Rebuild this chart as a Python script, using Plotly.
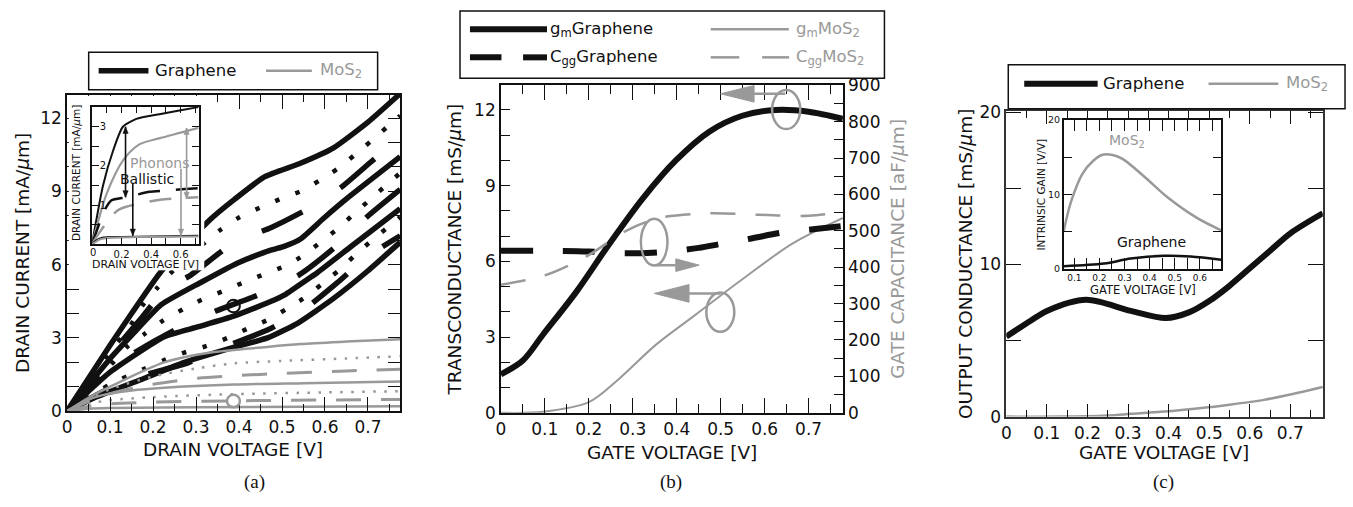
import plotly.graph_objects as go

W, H = 1353, 507
def PX(x): return x / W
def PY(y): return 1 - y / H

BLACK = "#111111"
GRAY = "#999999"
FONT = "DejaVu Sans"

# ---------------- Panel (a): drain current vs drain voltage ----------------
a_s1_x = [0, 0.05, 0.1, 0.15, 0.22, 0.33, 0.39, 0.46, 0.54, 0.62, 0.70, 0.775]
a_s1_y = [0, 1.35, 2.7, 4.0, 5.75, 7.8, 8.68, 9.6, 10.13, 10.78, 11.83, 13.0]
a_d1_x = [0, 0.1, 0.141, 0.176, 0.21, 0.242, 0.3, 0.358, 0.4, 0.447, 0.495, 0.543, 0.587, 0.63, 0.669, 0.708, 0.746, 0.775]
a_d1_y = [0, 2.45, 3.32, 4.34, 5.05, 5.67, 6.6, 7.44, 7.93, 8.32, 8.68, 9.0, 9.44, 9.93, 10.49, 11.07, 11.66, 12.1]
a_ds1_x = [0, 0.1, 0.17, 0.23, 0.285, 0.389, 0.474, 0.555, 0.636, 0.706, 0.775]
a_ds1_y = [0, 2.3, 3.75, 5.02, 5.54, 6.92, 7.51, 8.23, 9.14, 10.19, 11.22]
a_s2_x = [0, 0.1, 0.15, 0.219, 0.312, 0.397, 0.474, 0.505, 0.543, 0.597, 0.659, 0.775]
a_s2_y = [0, 2.15, 3.1, 4.36, 5.28, 6.07, 6.59, 6.75, 7.05, 7.9, 8.82, 10.42]
a_d2_x = [0, 0.107, 0.141, 0.18, 0.223, 0.269, 0.313, 0.362, 0.412, 0.459, 0.509, 0.551, 0.592, 0.632, 0.669, 0.708, 0.746, 0.775]
a_d2_y = [0, 2.0, 2.66, 3.16, 3.71, 4.17, 4.56, 4.91, 5.28, 5.61, 5.96, 6.39, 6.95, 7.5, 8.11, 8.71, 9.31, 9.75]
a_ds2_x = [0, 0.1, 0.157, 0.25, 0.346, 0.443, 0.539, 0.624, 0.698, 0.775]
a_ds2_y = [0, 1.75, 2.4, 3.32, 4.1, 4.75, 5.57, 6.72, 7.96, 9.08]
a_s3_x = [0, 0.1, 0.226, 0.304, 0.389, 0.482, 0.505, 0.551, 0.582, 0.659, 0.775]
a_s3_y = [0, 1.6, 3.05, 3.45, 3.9, 4.55, 4.75, 5.3, 5.67, 6.72, 8.29]
a_d3_x = [0, 0.1, 0.18, 0.223, 0.273, 0.323, 0.372, 0.42, 0.466, 0.509, 0.553, 0.592, 0.632, 0.669, 0.708, 0.746, 0.775]
a_d3_y = [0, 1.1, 1.74, 2.07, 2.4, 2.66, 2.99, 3.38, 3.73, 4.17, 4.65, 5.19, 5.76, 6.37, 6.98, 7.53, 7.95]
a_ds3_x = [0, 0.1, 0.18, 0.281, 0.389, 0.466, 0.547, 0.628, 0.698, 0.775]
a_ds3_y = [0, 0.95, 1.48, 1.98, 2.79, 3.32, 4.1, 5.25, 6.33, 7.18]
a_s4_x = [0, 0.057, 0.18, 0.273, 0.389, 0.466, 0.536, 0.62, 0.70, 0.775]
a_s4_y = [0, 0.5, 1.35, 2.0, 2.62, 3.0, 3.6, 4.62, 5.75, 6.92]

a_g1_x = [0, 0.05, 0.11, 0.226, 0.342, 0.458, 0.543, 0.65, 0.775]
a_g1_y = [0, 0.55, 1.09, 2.0, 2.42, 2.62, 2.75, 2.85, 2.95]
a_gd1_x = [0, 0.05, 0.1, 0.2, 0.3, 0.389, 0.5, 0.65, 0.775]
a_gd1_y = [0, 0.5, 0.9, 1.42, 1.75, 1.96, 2.06, 2.16, 2.25]
a_gds1_x = [0, 0.05, 0.1, 0.2, 0.304, 0.389, 0.5, 0.65, 0.775]
a_gds1_y = [0, 0.4, 0.72, 1.1, 1.35, 1.45, 1.55, 1.65, 1.72]
a_g2_x = [0, 0.04, 0.08, 0.15, 0.226, 0.389, 0.55, 0.775]
a_g2_y = [0, 0.4, 0.65, 0.85, 0.96, 1.09, 1.15, 1.22]
a_gd2_x = [0, 0.05, 0.1, 0.2, 0.389, 0.6, 0.775]
a_gd2_y = [0, 0.3, 0.45, 0.58, 0.7, 0.77, 0.82]
a_gds2_x = [0, 0.05, 0.1, 0.2, 0.4, 0.775]
a_gds2_y = [0, 0.2, 0.3, 0.37, 0.43, 0.48]
a_g3_x = [0, 0.05, 0.1, 0.3, 0.775]
a_g3_y = [0, 0.1, 0.13, 0.16, 0.2]

# inset (a)
ia_bs_x = [0, 0.074, 0.142, 0.209, 0.3, 0.456, 0.6, 0.72]
ia_bs_y = [0, 1.49, 2.38, 3.0, 3.2, 3.32, 3.42, 3.5]
ia_gs_x = [0, 0.05, 0.1, 0.21, 0.32, 0.46, 0.6, 0.72]
ia_gs_y = [0, 0.7, 1.3, 2.14, 2.55, 2.71, 2.85, 2.97]
ia_bd_x = [0, 0.085, 0.13, 0.23, 0.39, 0.5, 0.63, 0.72]
ia_bd_y = [0, 0.87, 1.12, 1.2, 1.34, 1.37, 1.41, 1.43]
ia_gd_x = [0, 0.05, 0.175, 0.32, 0.46, 0.6, 0.72]
ia_gd_y = [0, 0.3, 0.87, 1.04, 1.14, 1.18, 1.2]
ia_bb_x = [0, 0.03, 0.07, 0.2, 0.72]
ia_bb_y = [0, 0.1, 0.17, 0.19, 0.22]
ia_gb_x = [0, 0.05, 0.1, 0.3, 0.72]
ia_gb_y = [0, 0.12, 0.16, 0.19, 0.2]

# ---------------- Panel (b): gm and Cgg vs gate voltage ----------------
b_gm_gr_x = [0, 0.05, 0.096, 0.172, 0.247, 0.323, 0.398, 0.474, 0.549, 0.625, 0.7, 0.778]
b_gm_gr_y = [1.52, 2.07, 3.1, 4.8, 6.7, 8.5, 10.0, 11.14, 11.77, 12.0, 11.93, 11.65]
b_gm_mo_x = [0, 0.096, 0.2, 0.262, 0.353, 0.444, 0.55, 0.663, 0.778]
b_gm_mo_y = [0, 0.04, 0.42, 1.24, 2.7, 3.9, 5.3, 6.7, 7.72]
b_cg_gr_x = [0, 0.1, 0.2, 0.28, 0.36, 0.45, 0.5, 0.57, 0.64, 0.71, 0.778]
b_cg_gr_y = [445, 445, 443, 438, 441, 453, 464, 479, 495, 504, 513]
b_cg_mo_x = [0, 0.096, 0.194, 0.285, 0.36, 0.474, 0.587, 0.7, 0.778]
b_cg_mo_y = [352, 376, 429, 500, 535, 548, 544, 541, 552]

# ---------------- Panel (c): output conductance ----------------
c_gr_x = [0, 0.061, 0.1, 0.1966, 0.307, 0.393, 0.45, 0.5, 0.55, 0.6, 0.65, 0.7, 0.78]
c_gr_y = [5.26, 6.32, 6.95, 7.68, 6.95, 6.48, 6.85, 7.6, 8.6, 9.75, 10.9, 12.05, 13.37]
c_mo_x = [0, 0.14, 0.25, 0.307, 0.4, 0.47, 0.55, 0.635, 0.7, 0.78]
c_mo_y = [0, 0.0, 0.08, 0.18, 0.35, 0.53, 0.78, 1.1, 1.45, 1.95]
# inset (c): intrinsic gain
ic_mo_x = [0.058, 0.087, 0.1334, 0.1755, 0.2127, 0.2524, 0.292, 0.378, 0.471, 0.59, 0.685]
ic_mo_y = [5.07, 9.0, 12.8, 14.5, 15.3, 15.26, 14.75, 12.39, 9.59, 6.79, 5.16]
ic_gr_x = [0.058, 0.219, 0.325, 0.457, 0.563, 0.685]
ic_gr_y = [0.34, 0.68, 1.37, 1.72, 1.63, 1.2]

fig = go.Figure()

def add(x, y, xa, ya, color, width, dash="solid", smoothing=0.6):
    fig.add_trace(go.Scatter(
        x=x, y=y, xaxis=xa, yaxis=ya, mode="lines",
        line=dict(color=color, width=width, dash=dash, shape="spline", smoothing=smoothing),
        showlegend=False, hoverinfo="skip"))

BDOT = "4.5px,17px"
BDASH = "45px,45px"
GDOT = "2.5px,8.5px"
GDASH = "25px,20px"

# panel (a) black
for (x, y) in [(a_s1_x, a_s1_y), (a_s2_x, a_s2_y), (a_s3_x, a_s3_y), (a_s4_x, a_s4_y)]:
    add(x, y, "x", "y", BLACK, 5.5, "solid", 0.5)
for (x, y) in [(a_d1_x, a_d1_y), (a_d2_x, a_d2_y), (a_d3_x, a_d3_y)]:
    add(x, y, "x", "y", BLACK, 4.5, BDOT, 0.5)
for (x, y) in [(a_ds1_x, a_ds1_y), (a_ds2_x, a_ds2_y), (a_ds3_x, a_ds3_y)]:
    add(x, y, "x", "y", BLACK, 5.5, BDASH, 0.5)
# panel (a) gray
for (x, y) in [(a_g1_x, a_g1_y), (a_g2_x, a_g2_y), (a_g3_x, a_g3_y)]:
    add(x, y, "x", "y", GRAY, 2.5, "solid", 0.8)
for (x, y) in [(a_gd1_x, a_gd1_y), (a_gd2_x, a_gd2_y)]:
    add(x, y, "x", "y", GRAY, 2.5, GDOT, 0.8)
for (x, y) in [(a_gds1_x, a_gds1_y), (a_gds2_x, a_gds2_y)]:
    add(x, y, "x", "y", GRAY, 3, GDASH, 0.8)

# white backing of the inset figure (labels area), an empty subplot
fig.add_trace(go.Scatter(x=[None], y=[None], xaxis="x2", yaxis="y2", mode="lines",
                         showlegend=False, hoverinfo="skip"))

# inset (a)
add(ia_bs_x, ia_bs_y, "x3", "y3", BLACK, 2, "solid", 0.6)
add(ia_gs_x, ia_gs_y, "x3", "y3", GRAY, 2.2, "solid", 0.8)
add(ia_bd_x, ia_bd_y, "x3", "y3", BLACK, 2.5, "22px,16px", 0.6)
add(ia_gd_x, ia_gd_y, "x3", "y3", GRAY, 2.5, "22px,16px", 0.8)
add(ia_bb_x, ia_bb_y, "x3", "y3", BLACK, 2, "solid", 0.6)
add(ia_gb_x, ia_gb_y, "x3", "y3", GRAY, 2, "solid", 0.6)

# panel (b)
add(b_gm_gr_x, b_gm_gr_y, "x4", "y4", BLACK, 6, "solid", 0.9)
add(b_gm_mo_x, b_gm_mo_y, "x4", "y4", GRAY, 2, "solid", 0.9)
add(b_cg_gr_x, b_cg_gr_y, "x4", "y5", BLACK, 6, "32px,30px", 0.9)
add(b_cg_mo_x, b_cg_mo_y, "x4", "y5", GRAY, 2.5, "25px,20px", 0.9)

# panel (c)
add(c_gr_x, c_gr_y, "x6", "y6", BLACK, 6, "solid", 0.9)
add(c_mo_x, c_mo_y, "x6", "y6", GRAY, 2.5, "solid", 0.9)
add(ic_mo_x, ic_mo_y, "x7", "y7", GRAY, 2.5, "solid", 0.9)
add(ic_gr_x, ic_gr_y, "x7", "y7", BLACK, 2.5, "solid", 0.9)


def axis(domain, rng, **kw):
    d = dict(domain=domain, range=rng, showline=True, linecolor=BLACK, linewidth=1.5,
             mirror="ticks", ticks="inside", tickcolor=BLACK, tickwidth=1.2, showgrid=False,
             zeroline=False, tickfont=dict(family=FONT, size=17, color=BLACK), fixedrange=True)
    d.update(kw)
    return d

xminor = dict(dtick=0.05, ticklen=7, ticks="inside", tickcolor=BLACK, showgrid=False)

layout = dict(
    width=W, height=H, margin=dict(l=0, r=0, t=0, b=0),
    paper_bgcolor="white", plot_bgcolor="white", showlegend=False,
    # (a) main
    xaxis=axis([PX(62.3), PX(396.7)], [0, 0.775], anchor="y", dtick=0.1, tick0=0, ticklen=14, minor=xminor),
    yaxis=axis([PY(417.7), PY(88.3)], [0, 12.95], anchor="x", dtick=3, tick0=0, ticklen=12,
               minor=dict(dtick=1, ticklen=12, ticks="inside", tickcolor=BLACK, showgrid=False)),
    # white cover behind inset (a)
    xaxis2=dict(domain=[PX(64), PX(200)], range=[0, 1], anchor="y2", visible=False, fixedrange=True),
    yaxis2=dict(domain=[PY(271), PY(89.5)], range=[0, 1], anchor="x2", visible=False, fixedrange=True),
    # (a) inset
    xaxis3=axis([PX(87.3), PX(194.3)], [0, 0.721], anchor="y3", tickvals=[0, 0.2, 0.4, 0.6],
                ticktext=["0", "0.2", "0.4", "0.6"], ticklen=7,
                tickfont=dict(family=FONT, size=10, color=BLACK),
                minor=dict(tickvals=[0.1, 0.3, 0.5, 0.7], ticklen=7, ticks="inside", tickcolor=BLACK)),
    yaxis3=axis([PY(244), PY(100.7)], [0, 3.51], anchor="x3", dtick=1, tick0=0, ticklen=7,
                ticklabelposition="inside", tickfont=dict(family=FONT, size=10, color=BLACK),
                minor=dict(dtick=0.5, ticklen=7, ticks="inside", tickcolor=BLACK)),
    # (b)
    xaxis4=axis([PX(497.7), PX(841)], [0, 0.778], anchor="y4", dtick=0.1, tick0=0, ticklen=15, minor=dict(xminor, ticklen=9)),
    yaxis4=axis([PY(419.3), PY(78.3)], [0, 12.98], anchor="x4", dtick=3, tick0=0, ticklen=9, mirror=False,
                minor=dict(dtick=1, ticklen=9, ticks="inside", tickcolor=BLACK)),
    yaxis5=axis([PY(419.3), PY(78.3)], [0, 900], anchor="x4", overlaying="y4", side="right", dtick=100, tick0=0,
                ticklen=9, mirror=False, minor=dict(dtick=50, ticklen=9, ticks="inside", tickcolor=BLACK)),
    # (c)
    xaxis6=axis([PX(1005), PX(1322.7)], [0, 0.78], anchor="y6", dtick=0.1, tick0=0, ticklen=13, minor=xminor,
                linecolor="#333333"),
    yaxis6=axis([PY(423.3), PY(105)], [0, 20.1], anchor="x6", dtick=10, tick0=0, ticklen=15, linecolor="#333333",
                minor=dict(dtick=5, ticklen=15, ticks="inside", tickcolor=BLACK)),
    # (c) inset
    xaxis7=axis([PX(1062.7), PX(1220.7)], [0.058, 0.685], anchor="y7", tickvals=[0.1, 0.2, 0.3, 0.4, 0.5, 0.6],
                ticklen=11, tickfont=dict(family=FONT, size=9, color=BLACK),
                minor=dict(tickvals=[0.05, 0.15, 0.25, 0.35, 0.45, 0.55, 0.65], ticklen=11, ticks="inside", tickcolor=BLACK)),
    yaxis7=axis([PY(269.3), PY(114.3)], [0, 20], anchor="x7", dtick=10, tick0=0, ticklen=8,
                tickfont=dict(family=FONT, size=9.5, color=BLACK),
                minor=dict(dtick=5, ticklen=8, ticks="inside", tickcolor=BLACK)),
)
fig.update_layout(**layout)

shapes = []
annotations = []

def ptext(text, x, y, size, color=BLACK, angle=0, family=FONT, xanchor="center"):
    annotations.append(dict(text=text, x=PX(x), y=PY(y), xref="paper", yref="paper", showarrow=False,
                            xanchor=xanchor, yanchor="middle", textangle=angle,
                            font=dict(family=family, size=size, color=color)))

def pline(x0, x1, y, color, width, dash="solid"):
    shapes.append(dict(type="line", xref="paper", yref="paper", x0=PX(x0), x1=PX(x1), y0=PY(y), y1=PY(y),
                       line=dict(color=color, width=width, dash=dash)))

def prect(x0, y0, x1, y1):
    shapes.append(dict(type="rect", xref="paper", yref="paper", x0=PX(x0), x1=PX(x1), y0=PY(y0), y1=PY(y1),
                       line=dict(color=BLACK, width=1.5), fillcolor="white"))

# axis titles
MU = "<i>μ</i>"
ptext("DRAIN VOLTAGE [V]", 229, 458, 18.5)
ptext(f"DRAIN CURRENT [mA/{MU}m]", 17, 253, 18.5, angle=-90)
ptext("GATE VOLTAGE [V]", 669, 461, 18.5)
ptext(f"TRANSCONDUCTANCE [mS/{MU}m]", 451, 249, 18.5, angle=-90)
ptext(f"GATE CAPACITANCE [aF/{MU}m]", 895, 249, 18.5, color=GRAY, angle=-90)
ptext("GATE VOLTAGE [V]", 1163, 461, 18.5)
ptext(f"OUTPUT CONDUCTANCE [mS/{MU}m]", 964, 264, 18.5, angle=-90)
# inset titles
ptext("DRAIN VOLTAGE [V]", 141, 264.5, 11)
ptext(f"DRAIN CURRENT [mA/{MU}m]", 72, 170, 10.5, angle=-90)
ptext("GATE VOLTAGE [V]", 1142, 291, 11.5)
ptext("INTRINSIC GAIN [V/V]", 1040, 192, 10.5, angle=-90)
# inset (a) origin label on the x axis (hidden by plotly at the axis corner)
ptext("0", 88.5, 252.5, 10)
# subplot labels
ptext("(a)", 250, 491, 19, family="Liberation Serif")
ptext("(b)", 668, 491, 19, family="Liberation Serif")
ptext("(c)", 1163, 491, 19, family="Liberation Serif")

# legend (a)
prect(84, 44, 374, 83)
pline(94, 144, 63.3, BLACK, 5.5)
ptext("Graphene", 149, 63.3, 16.5, xanchor="left")
pline(262, 308, 63.3, GRAY, 2.5)
ptext("MoS<sub>2</sub>", 314, 63.3, 16.5, color=GRAY, xanchor="left")

# legend (b)
prect(456.7, 1, 882.7, 71)
pline(466.7, 544, 20, BLACK, 6)
ptext("g<sub>m</sub>Graphene", 545, 20, 16.5, xanchor="left")
pline(708.3, 786.7, 20, GRAY, 2.5)
ptext("g<sub>m</sub>MoS<sub>2</sub>", 792, 20, 16.5, color=GRAY, xanchor="left")
pline(466.7, 498.3, 49.3, BLACK, 6)
pline(520, 544, 49.3, BLACK, 6)
ptext("C<sub>gg</sub>Graphene", 545, 49.3, 16.5, xanchor="left")
pline(708.3, 737, 49.3, GRAY, 2.5)
pline(760, 787, 49.3, GRAY, 2.5)
ptext("C<sub>gg</sub>MoS<sub>2</sub>", 792, 49.3, 16.5, color=GRAY, xanchor="left")

# legend (c)
prect(1007, 57, 1345, 102.7)
pline(1023, 1096.7, 76.7, BLACK, 6)
ptext("Graphene", 1100, 76.7, 16.5, xanchor="left")
pline(1208, 1278, 76.7, GRAY, 2.5)
ptext("MoS<sub>2</sub>", 1284, 76.7, 16.5, color=GRAY, xanchor="left")

# (a) circles
shapes.append(dict(type="circle", xref="x", yref="y", x0=0.372, x1=0.402, y0=4.05, y1=4.56,
                   line=dict(color=BLACK, width=2)))
shapes.append(dict(type="circle", xref="x", yref="y", x0=0.372, x1=0.402, y0=0.16, y1=0.67,
                   line=dict(color=GRAY, width=2.5)))

# (b) ellipses and arrows
def ell(x0, x1, y0, y1):
    shapes.append(dict(type="circle", xref="x4", yref="y4", x0=x0, x1=x1, y0=y0, y1=y1,
                       line=dict(color=GRAY, width=2.5)))

def arrow(xs, xb, xt, y, hh):
    shapes.append(dict(type="line", xref="x4", yref="y4", x0=xs, x1=xb, y0=y, y1=y,
                       line=dict(color=GRAY, width=2.5)))
    shapes.append(dict(type="path", xref="x4", yref="y4",
                       path=f"M {xt},{y} L {xb},{y + hh} L {xb},{y - hh} Z",
                       fillcolor=GRAY, line=dict(color=GRAY, width=1)))

ell(0.617, 0.681, 11.24, 12.79)
arrow(0.647, 0.576, 0.4998, 12.64, 0.33)
ell(0.3185, 0.379, 5.84, 7.69)
arrow(0.3525, 0.398, 0.451, 5.85, 0.25)
ell(0.4674, 0.531, 3.21, 4.77)
arrow(0.499, 0.428, 0.349, 4.73, 0.35)

# inset (a) vertical arrows (lines + triangular heads)
HL = 0.17   # head length in y units of inset
HW = 0.018  # head half width in x units of inset

def ihead(x, ytip, direction, color):
    yb = ytip - direction * HL
    shapes.append(dict(type="path", xref="x3", yref="y3",
                       path=f"M {x},{ytip} L {x - HW},{yb} L {x + HW},{yb} Z",
                       fillcolor=color, line=dict(color=color, width=0.5)))

def iarrow(x, y_top, y_bot, color, both):
    shapes.append(dict(type="line", xref="x3", yref="y3", x0=x, x1=x, y0=y_top, y1=y_bot,
                       line=dict(color=color, width=1.6)))
    ihead(x, y_bot, -1, color)
    if both:
        ihead(x, y_top, 1, color)

iarrow(0.227, 3.0, 1.2, BLACK, True)
iarrow(0.276, 1.57, 0.22, BLACK, False)
iarrow(0.64, 2.97, 1.16, GRAY, True)
iarrow(0.602, 1.93, 0.22, GRAY, False)
annotations.append(dict(text="Phonons", x=0.462, y=2.08, xref="x3", yref="y3", showarrow=False,
                        font=dict(family=FONT, size=14, color=GRAY)))
annotations.append(dict(text="Ballistic", x=0.369, y=1.67, xref="x3", yref="y3", showarrow=False,
                        font=dict(family=FONT, size=14, color=BLACK)))

# inset (c) labels
annotations.append(dict(text="MoS<sub>2</sub>", x=0.309, y=17.1, xref="x7", yref="y7", showarrow=False,
                        font=dict(family=FONT, size=14, color=GRAY)))
annotations.append(dict(text="Graphene", x=0.408, y=3.56, xref="x7", yref="y7", showarrow=False,
                        font=dict(family=FONT, size=14, color=BLACK)))

fig.update_layout(shapes=shapes, annotations=annotations)
fig.write_html("out.html")
